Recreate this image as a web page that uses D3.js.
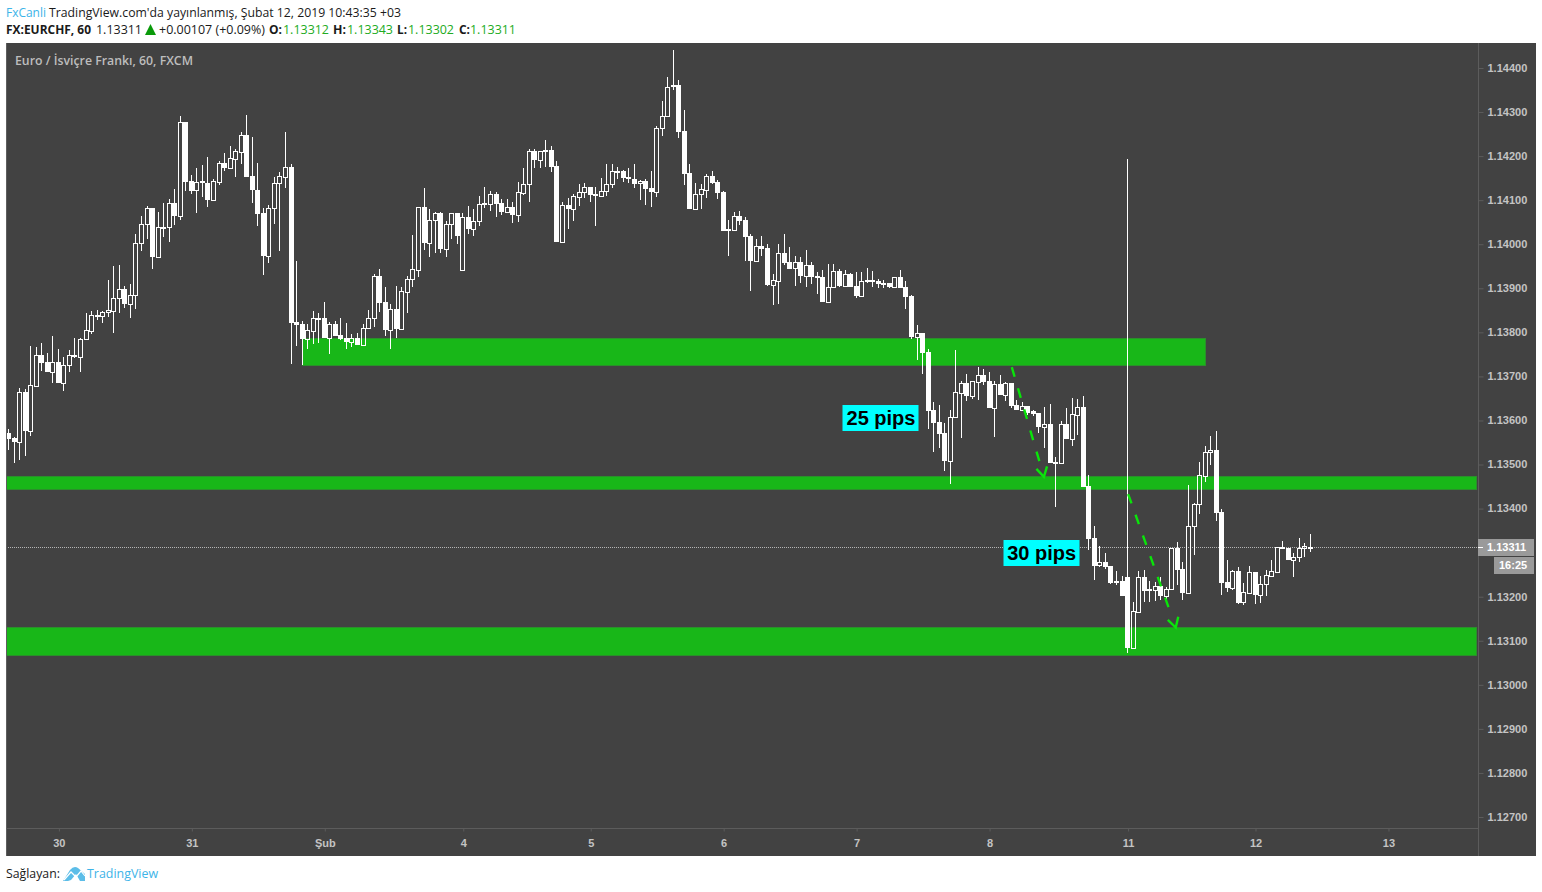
<!DOCTYPE html>
<html lang="tr">
<head>
<meta charset="utf-8">
<title>FX:EURCHF, 60</title>
<script src="https://cdnjs.cloudflare.com/ajax/libs/d3/7.8.5/d3.min.js"></script>
<style>
html,body{margin:0;padding:0;background:#fff;overflow:hidden}
svg{display:block}
text{font-family:"Liberation Sans",Arial,sans-serif}
.hdr{font-family:"Open Sans",sans-serif;font-size:12.5px}
.tick text{font-family:"Liberation Sans",Arial,sans-serif;font-size:11px;font-weight:700;fill:#c4c4c4}
</style>
</head>
<body>
<svg id="chart" width="1542" height="892"></svg>
<script>
// Hourly EUR/CHF bars, values in units of 0.00001
const priceUnit = 1e-5;
const opens = [
113571,113560,113552,113664,113575,113679,113749,113732,113711,113732,
113685,113727,113748,113745,113784,113804,113839,113838,113846,113849,
113877,113898,113864,113884,114002,114045,114082,113972,114039,114038,
114093,114065,114277,114144,114122,114143,114138,114101,114142,114184,
114172,114194,114210,114247,114154,114123,114071,113974,114082,114138,
114153,114175,113823,113819,113786,113804,113832,113832,113788,113819,
113794,113787,113779,113787,113771,113811,113832,113927,113869,113806,
113853,113808,113892,113920,113942,114085,114003,114054,114071,113989,
114047,114072,113942,114061,114035,114052,114093,114092,114114,114094,
114074,114084,114067,114117,114136,114211,114192,114211,114215,114177,
114006,114088,114081,114108,114118,114131,114113,114110,114120,114136,
114166,114166,114153,114147,114138,114144,114127,114119,114263,114290,
114361,114361,114257,114162,114081,114113,114124,114155,114141,114119,
114035,114033,114064,114055,114019,113963,113996,113992,113908,113917,
113980,113960,113945,113960,113929,113953,113928,113926,113870,113902,
113939,113906,113932,113905,113883,113919,113919,113917,113912,113912,
113904,113925,113903,113882,113790,113798,113755,113624,113597,113572,
113509,113609,113663,113684,113656,113688,113703,113689,113629,113682,
113658,113685,113635,113624,113633,113621,113617,113585,113592,113506,
113503,113592,113559,113613,113631,113451,113333,113271,113279,113270,
113236,113236,113245,113084,113166,113245,113218,113216,113224,113202,
113218,113310,113263,113209,113360,113410,113474,113528,113533,113392,
113233,113220,113258,113187,113208,113256,113205,113228,113248,113257,
113312,113310,113284,113291,113310,113312];
const highs = [
113581,113563,113673,113671,113768,113766,113776,113753,113792,113762,
113743,113759,113787,113787,113843,113849,113851,113849,113919,113951,
113953,113905,113910,114023,114064,114087,114082,114073,114094,114103,
114125,114291,114277,114157,114172,114180,114198,114148,114189,114207,
114223,114216,114255,114293,114243,114184,114082,114088,114152,114163,
114255,114182,113962,113826,113819,113849,113844,113869,113824,113826,
113833,113821,113796,113799,113819,113851,113933,113944,113903,113864,
113905,113903,113928,114021,114084,114128,114080,114073,114073,114053,
114072,114072,114072,114087,114080,114110,114130,114121,114119,114103,
114103,114096,114141,114173,114216,114216,114211,114237,114223,114189,
114096,114105,114114,114137,114139,114131,114130,114150,114182,114182,
114175,114169,114173,114182,114146,114148,114166,114268,114325,114380,
114441,114373,114305,114182,114139,114137,114159,114166,114146,114121,
114055,114073,114076,114062,114023,114012,114019,114001,113932,114001,
114023,113994,113973,113971,113987,113960,113937,113942,113955,113955,
113944,113942,113935,113936,113936,113946,113939,113921,113919,113912,
113925,113942,113917,113885,113817,113798,113762,113642,113635,113594,
113624,113760,113690,113706,113689,113721,113717,113710,113690,113703,
113687,113685,113647,113642,113633,113624,113617,113631,113637,113517,
113599,113628,113650,113648,113656,113476,113361,113315,113299,113270,
113258,113247,114193,113188,113258,113261,113236,113234,113245,113222,
113310,113324,113279,113454,113412,113506,113542,113565,113576,113399,
113283,113261,113267,113230,113270,113256,113247,113261,113283,113312,
113327,113310,113299,113333,113322,113343];
const lows = [
113533,113504,113510,113519,113565,113679,113713,113711,113685,113685,
113667,113710,113742,113710,113784,113796,113828,113821,113835,113799,
113844,113855,113833,113853,113985,114012,113944,113969,114017,114005,
114044,114055,114121,114114,114071,114107,114085,114101,114135,114167,
114172,114153,114182,114153,114094,114041,113930,113957,114046,113985,
114128,113728,113769,113725,113762,113774,113776,113787,113751,113792,
113783,113762,113767,113771,113771,113808,113812,113846,113792,113762,
113787,113808,113844,113903,113926,113987,113971,113980,113980,113971,
114012,114001,113942,114023,114019,114041,114082,114076,114062,114066,
114071,114048,114051,114112,114096,114173,114173,114175,114164,114005,
114003,114035,114053,114087,114105,114096,114041,114110,114109,114128,
114148,114141,114139,114128,114100,114089,114085,114107,114246,114290,
114350,114241,114135,114080,114078,114080,114105,114137,114103,114030,
113973,114033,114044,113962,113894,113963,113973,113905,113862,113864,
113953,113944,113905,113912,113903,113910,113887,113869,113870,113901,
113903,113903,113903,113879,113883,113911,113903,113901,113901,113901,
113903,113901,113853,113785,113737,113706,113581,113529,113538,113485,
113456,113609,113560,113645,113649,113647,113681,113628,113563,113658,
113644,113628,113624,113624,113612,113611,113572,113538,113503,113404,
113503,113559,113542,113567,113449,113306,113238,113267,113263,113229,
113227,113202,113072,113084,113166,113188,113188,113190,113193,113193,
113218,113227,113193,113209,113295,113388,113460,113499,113372,113204,
113211,113215,113184,113181,113206,113184,113186,113202,113248,113257,
113308,113283,113245,113279,113290,113302];
const closes = [
113558,113552,113664,113575,113680,113748,113731,113711,113732,113685,
113727,113748,113746,113784,113805,113839,113837,113846,113850,113877,
113898,113864,113884,114002,114045,114082,113972,114038,114037,114093,
114064,114277,114142,114121,114142,114138,114101,114143,114184,114172,
114195,114212,114247,114153,114122,114069,113974,114082,114138,114154,
114175,113822,113817,113786,113805,113832,113830,113787,113819,113792,
113785,113778,113787,113771,113811,113832,113927,113867,113805,113852,
113808,113893,113920,113943,114084,114003,114054,114070,113989,114047,
114072,114019,114061,114035,114052,114091,114089,114113,114091,114073,
114084,114066,114118,114136,114211,114191,114211,114215,114175,114005,
114088,114080,114109,114118,114131,114112,114110,114120,114136,114166,
114164,114150,114147,114137,114143,114125,114119,114263,114290,114358,
114357,114255,114159,114080,114113,114125,114154,114139,114116,114030,
114030,114063,114053,114017,113962,113995,113989,113908,113918,113979,
113957,113944,113959,113928,113952,113926,113923,113869,113902,113939,
113905,113932,113903,113882,113916,113915,113915,113910,113910,113903,
113925,113901,113880,113790,113798,113753,113622,113594,113569,113508,
113609,113664,113684,113656,113689,113703,113687,113628,113682,113658,
113684,113633,113624,113632,113618,113615,113585,113592,113503,113501,
113591,113559,113614,113630,113449,113331,113270,113278,113268,113231,
113231,113202,113084,113167,113244,113213,113214,113224,113202,113218,
113310,113261,113209,113361,113410,113476,113528,113532,113390,113231,
113220,113258,113186,113210,113255,113204,113228,113249,113258,113312,
113308,113283,113291,113310,113314,113311];

// 1.13300 is covered by the last-price tag in the original, so it is not labelled
const priceTicks = [1.127,1.128,1.129,1.13,1.131,1.132,1.134,1.135,1.136,1.137,1.138,1.139,1.14,1.141,1.142,1.143,1.144];
const dayTickBars = [9,33,57,82,105,129,153,177,202,225,249];
const dayTickLabels = ["30","31","Şub","4","5","6","7","8","11","12","13"];
const lastPrice = 1.13311;
const lastPriceLabel = "1.13311";
const countdownLabel = "16:25";

// Support zones: from bar, to bar, upper price, lower price
const zoneFrom = [53,-3,-3];
const zoneTo = [216,264.9,264.9];
const zoneTop = [1.13787,1.13474,1.13131];
const zoneBottom = [1.13726,1.13444,1.13067];
// Drawn arrows: start bar/price, end bar/price
const arrowFromBar = [181.1,202.1];
const arrowFromPrice = [1.13721,1.13433];
const arrowToBar = [186.9,210.7];
const arrowToPrice = [1.13472,1.13130];
// Callouts
const calloutText = ["25 pips","30 pips"];
const calloutBar = [157.4,186.4];
const calloutPrice = [1.13606,1.13299];

const headerQuote = [
 {t:"FX:EURCHF, 60",x:6,w:85,b:1,c:"#1a1a1a"},
 {t:"1.13311",x:96,w:46,b:0,c:"#1a1a1a"},
 {t:"+0.00107 (+0.09%)",x:159,w:106,b:0,c:"#1a1a1a"},
 {t:"O:",x:269,w:13,b:1,c:"#1a1a1a"},{t:"1.13312",x:283,w:46,b:0,c:"#22ab22"},
 {t:"H:",x:333,w:13,b:1,c:"#1a1a1a"},{t:"1.13343",x:347,w:46,b:0,c:"#22ab22"},
 {t:"L:",x:397,w:10,b:1,c:"#1a1a1a"},{t:"1.13302",x:408,w:46,b:0,c:"#22ab22"},
 {t:"C:",x:459,w:11,b:1,c:"#1a1a1a"},{t:"1.13311",x:470,w:46,b:0,c:"#22ab22"}];

const svg = d3.select("#chart");
const W = {l:6,r:1536,t:43,b:856,plotR:1478,plotB:828};

const x = d3.scaleLinear().domain([0,235]).range([8.5,1310.4]);
const y = d3.scaleLinear().domain([1.127,1.144]).range([817,68]);
const snap = v => Math.floor(v);

svg.append("rect").attr("x",W.l).attr("y",W.t).attr("width",W.r-W.l).attr("height",W.b-W.t).attr("fill","#424242");
svg.append("rect").attr("x",W.l).attr("y",W.t).attr("width",1).attr("height",W.b-W.t).attr("fill","#5e5e5e");

svg.append("defs").append("clipPath").attr("id","plot").append("rect")
  .attr("x",W.l+1).attr("y",W.t).attr("width",W.plotR-W.l-1).attr("height",W.plotB-W.t);
const plot = svg.append("g").attr("clip-path","url(#plot)");

// zones
plot.selectAll("rect.zone").data(zoneFrom).join("rect").attr("class","zone")
  .attr("x",(d,i)=>Math.round(x(d))+.5)
  .attr("y",(d,i)=>Math.round(y(zoneTop[i]))+.5)
  .attr("width",(d,i)=>Math.round(x(zoneTo[i]))-Math.round(x(d)))
  .attr("height",(d,i)=>Math.round(y(zoneBottom[i]))-Math.round(y(zoneTop[i])))
  .attr("fill","#18b718").attr("stroke","#2b8f2b").attr("stroke-width",1);

// last price line
plot.append("line").attr("x1",W.l).attr("x2",W.plotR)
  .attr("y1",Math.floor(y(lastPrice))+.5).attr("y2",Math.floor(y(lastPrice))+.5)
  .attr("stroke","#b5b5b5").attr("stroke-width",1).attr("stroke-dasharray","1 1");

// candles
const bars = opens.map((o,i)=>({i,o:o*priceUnit,h:highs[i]*priceUnit,l:lows[i]*priceUnit,c:closes[i]*priceUnit}));
const candle = plot.selectAll("g.bar").data(bars).join("g").attr("class","bar");
candle.each(function(d){
  const g = d3.select(this), top = Math.round(y(Math.max(d.o,d.c))), bot = Math.round(y(Math.min(d.o,d.c)));
  const wx = snap(x(d.i)), hi = Math.round(y(d.h)), lo = Math.round(y(d.l));
  const bx = wx-2;
  g.append("rect").attr("x",wx).attr("width",1).attr("fill","#fff")
    .attr("y",hi).attr("height",Math.max(0,top-hi));
  g.append("rect").attr("x",wx).attr("width",1).attr("fill","#fff")
    .attr("y",bot).attr("height",Math.max(0,lo-bot));
  if (d.c > d.o) {
    g.append("rect").attr("x",bx+.5).attr("y",top+.5).attr("width",4).attr("height",Math.max(1,bot-top))
      .attr("fill","none").attr("stroke","#fff").attr("stroke-width",1);
  } else {
    g.append("rect").attr("x",bx).attr("y",top).attr("width",5).attr("height",Math.max(2,bot-top)).attr("fill","#fff");
  }
});

// arrows
arrowFromBar.forEach((b,i)=>{
  const x1=x(b),y1=y(arrowFromPrice[i]),x2=x(arrowToBar[i]),y2=y(arrowToPrice[i]);
  const ang=Math.atan2(y2-y1,x2-x1), trim=10;
  plot.append("line").attr("x1",x1).attr("y1",y1).attr("x2",x2-trim*Math.cos(ang)).attr("y2",y2-trim*Math.sin(ang))
    .attr("stroke","#0ae40a").attr("stroke-width",2.4).attr("stroke-dasharray","10 12");
  const L=11, a=0.52, skew=0.05;
  const p=d3.path();
  p.moveTo(x2-L*Math.cos(ang-a+skew),y2-L*Math.sin(ang-a+skew));
  p.lineTo(x2,y2);
  p.lineTo(x2-L*Math.cos(ang+a+skew),y2-L*Math.sin(ang+a+skew));
  plot.append("path").attr("d",p.toString()).attr("fill","none").attr("stroke","#0ae40a").attr("stroke-width",2.4);
});

// callouts
calloutText.forEach((t,i)=>{
  const cx=x(calloutBar[i]), cy=y(calloutPrice[i]);
  plot.append("rect").attr("x",Math.round(cx)-37.5).attr("y",Math.round(cy)-13).attr("width",76).attr("height",26).attr("fill","#00ffff");
  plot.append("text").attr("x",cx+.5).attr("y",cy+7).attr("text-anchor","middle")
    .attr("font-size",20).attr("font-weight",700).attr("fill","#000").text(t);
});

// axes
const yAxis = d3.axisRight(y).tickValues(priceTicks).tickFormat(d3.format(".5f")).tickSize(5).tickPadding(4);
const gy = svg.append("g").attr("transform",`translate(${W.plotR+.5},0)`).call(yAxis);
gy.select(".domain").remove();
gy.selectAll(".tick line").attr("stroke","#5c5c5c");
gy.selectAll(".tick text").attr("dy","3.35px");
svg.append("line").attr("x1",W.plotR+.5).attr("x2",W.plotR+.5).attr("y1",W.t).attr("y2",W.b).attr("stroke","#5c5c5c");

const xAxis = d3.axisBottom(x).tickValues(dayTickBars).tickFormat((d,i)=>dayTickLabels[i]).tickSize(3).tickPadding(8);
const gx = svg.append("g").attr("transform",`translate(0.5,${W.plotB+.5})`).call(xAxis);
gx.select(".domain").remove();
gx.selectAll(".tick line").attr("stroke","#5c5c5c");
svg.append("line").attr("x1",W.l).attr("x2",W.plotR).attr("y1",W.plotB+.5).attr("y2",W.plotB+.5).attr("stroke","#5c5c5c");

// last price tags
const ly = Math.floor(y(lastPrice));
svg.append("rect").attr("x",1478).attr("y",ly-8).attr("width",56).attr("height",17).attr("fill","#9a9a9a");
svg.append("rect").attr("x",1478).attr("y",ly).attr("width",5).attr("height",1).attr("fill","#fff");
svg.append("text").attr("x",1487).attr("y",ly+4).attr("font-size",11).attr("font-weight",700).attr("fill","#fff").text(lastPriceLabel);
svg.append("rect").attr("x",1494).attr("y",ly+10).attr("width",40).attr("height",17).attr("fill","#9a9a9a");
svg.append("text").attr("x",1499).attr("y",ly+22).attr("font-size",11).attr("font-weight",700).attr("fill","#fff").text(countdownLabel);

// pane title
svg.append("text").attr("class","hdr").attr("x",15).attr("y",64.5).attr("fill","#bdbdbd").attr("font-weight",600)
  .attr("textLength",178).attr("lengthAdjust","spacingAndGlyphs").text("Euro / İsviçre Frankı, 60, FXCM");

// header
svg.append("text").attr("class","hdr").attr("x",6).attr("y",17).attr("fill","#3db4e8")
  .attr("textLength",40).attr("lengthAdjust","spacingAndGlyphs").text("FxCanli");
svg.append("text").attr("class","hdr").attr("x",49).attr("y",17).attr("fill","#1a1a1a")
  .attr("textLength",352).attr("lengthAdjust","spacingAndGlyphs").text("TradingView.com'da yayınlanmış, Şubat 12, 2019 10:43:35 +03");
svg.selectAll("text.q").data(headerQuote).join("text").attr("class","hdr q")
  .attr("x",d=>d.x).attr("y",34).attr("fill",d=>d.c).attr("font-weight",d=>d.b?700:400)
  .attr("textLength",d=>d.w).attr("lengthAdjust","spacingAndGlyphs").text(d=>d.t);
svg.append("path").attr("d","M150.5 24L156 35H145Z").attr("fill","#0a9a0a");

// footer
svg.append("text").attr("class","hdr").attr("x",6).attr("y",878).attr("fill","#1a1a1a")
  .attr("textLength",54).attr("lengthAdjust","spacingAndGlyphs").text("Sağlayan:");
svg.append("path").attr("d","M63 881L70 870Q74 865 78 868L85 874L85 881L80 881L76 874L71 880L68 881Z").attr("fill","#5cbde8");
svg.append("path").attr("d","M64 880L71 872L76 877L81 871L85 876").attr("fill","none").attr("stroke","#fff").attr("stroke-width",1.2);
svg.append("text").attr("class","hdr").attr("x",87).attr("y",878).attr("fill","#3db4e8")
  .attr("textLength",71).attr("lengthAdjust","spacingAndGlyphs").text("TradingView");
</script>
</body>
</html>
